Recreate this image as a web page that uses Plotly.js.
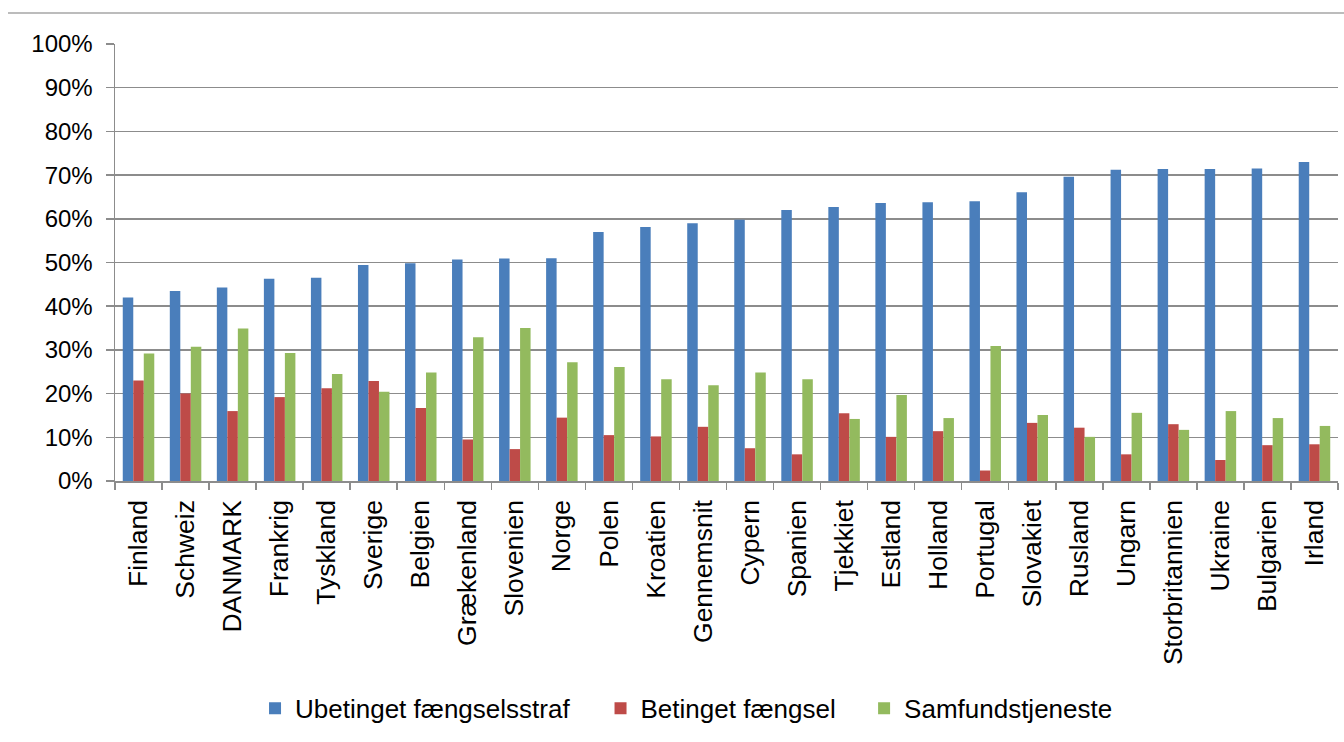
<!DOCTYPE html>
<html>
<head>
<meta charset="utf-8">
<script src="https://cdn.plot.ly/plotly-3.0.1.min.js"></script>
<style>html,body{margin:0;padding:0;background:#fff;}#chart{width:1344px;height:742px;}</style>
</head>
<body>
<div id="chart"></div>
<script>
const countries = ["Finland","Schweiz","DANMARK","Frankrig","Tyskland","Sverige","Belgien","Grækenland","Slovenien","Norge","Polen","Kroatien","Gennemsnit","Cypern","Spanien","Tjekkiet","Estland","Holland","Portugal","Slovakiet","Rusland","Ungarn","Storbritannien","Ukraine","Bulgarien","Irland"];
const ubetinget = [42.0,43.5,44.3,46.3,46.5,49.4,49.8,50.7,50.9,51.0,57.0,58.1,59.0,59.8,62.0,62.7,63.6,63.8,64.0,66.1,69.6,71.2,71.4,71.4,71.5,73.0];
const betinget = [23.0,20.0,16.0,19.2,21.2,22.9,16.7,9.5,7.3,14.5,10.5,10.2,12.4,7.5,6.1,15.5,10.1,11.4,2.4,13.3,12.2,6.1,13.0,4.8,8.2,8.4];
const samfund = [29.2,30.7,34.9,29.3,24.5,20.4,24.8,32.9,35.0,27.2,26.1,23.3,21.9,24.8,23.3,14.2,19.7,14.4,30.9,15.1,10.1,15.6,11.7,16.0,14.4,12.6];
const seriesNames = ["Ubetinget fængselsstraf","Betinget fængsel","Samfundstjeneste"];
const colors = ["#4A7EBB","#BE4B48","#93BA5E"];
const legendIds = ["legend","legend2","legend3"];
const legendX = [0.1145, 0.397, 0.6125];

const traces = [ubetinget, betinget, samfund].map((vals, i) => ({
  type: "bar",
  x: countries,
  y: vals,
  name: seriesNames[i],
  legend: legendIds[i],
  marker: {color: colors[i], line: {width: 0}},
  hoverinfo: "x+y+name"
}));

const legendStyle = (x) => ({
  orientation: "h",
  x: x, xanchor: "left",
  y: -0.52, yanchor: "middle",
  font: {size: 26, family: "Liberation Sans, Arial, sans-serif", color: "#000"},
  itemwidth: 30,
  bgcolor: "rgba(0,0,0,0)"
});

const layout = {
  width: 1344, height: 742,
  margin: {l: 115, r: 6, t: 44, b: 261},
  paper_bgcolor: "#ffffff",
  plot_bgcolor: "#ffffff",
  font: {family: "Liberation Sans, Arial, sans-serif", color: "#000000"},
  barmode: "group",
  bargap: 0.33,
  bargroupgap: 0,
  showlegend: true,
  legend: legendStyle(legendX[0]),
  legend2: legendStyle(legendX[1]),
  legend3: legendStyle(legendX[2]),
  xaxis: {
    type: "category",
    tickangle: -90,
    tickfont: {size: 26.5},
    showline: true, linecolor: "#8c8c8c", linewidth: 1.5,
    ticks: "outside", tickson: "boundaries", ticklen: 7, tickcolor: "#8c8c8c", tickwidth: 1.5,
    ticklabelstandoff: 7,
    showgrid: false,
    automargin: false
  },
  yaxis: {
    range: [0, 100],
    dtick: 10,
    ticksuffix: "%",
    tickfont: {size: 24},
    showline: true, linecolor: "#8c8c8c", linewidth: 1.5,
    ticks: "outside", ticklen: 8, tickcolor: "#8c8c8c", tickwidth: 1.5,
    ticklabelstandoff: 8,
    showgrid: true, gridcolor: "#8c8c8c", gridwidth: 1.5,
    zeroline: false,
    automargin: false
  },
  shapes: [{
    type: "line", xref: "paper", yref: "paper",
    x0: -0.0875, x1: 1.01, y0: 1.071, y1: 1.071,
    line: {color: "#a6a6a6", width: 1.5}
  }]
};

Plotly.newPlot("chart", traces, layout, {displayModeBar: false, staticPlot: true});
</script>
</body>
</html>
